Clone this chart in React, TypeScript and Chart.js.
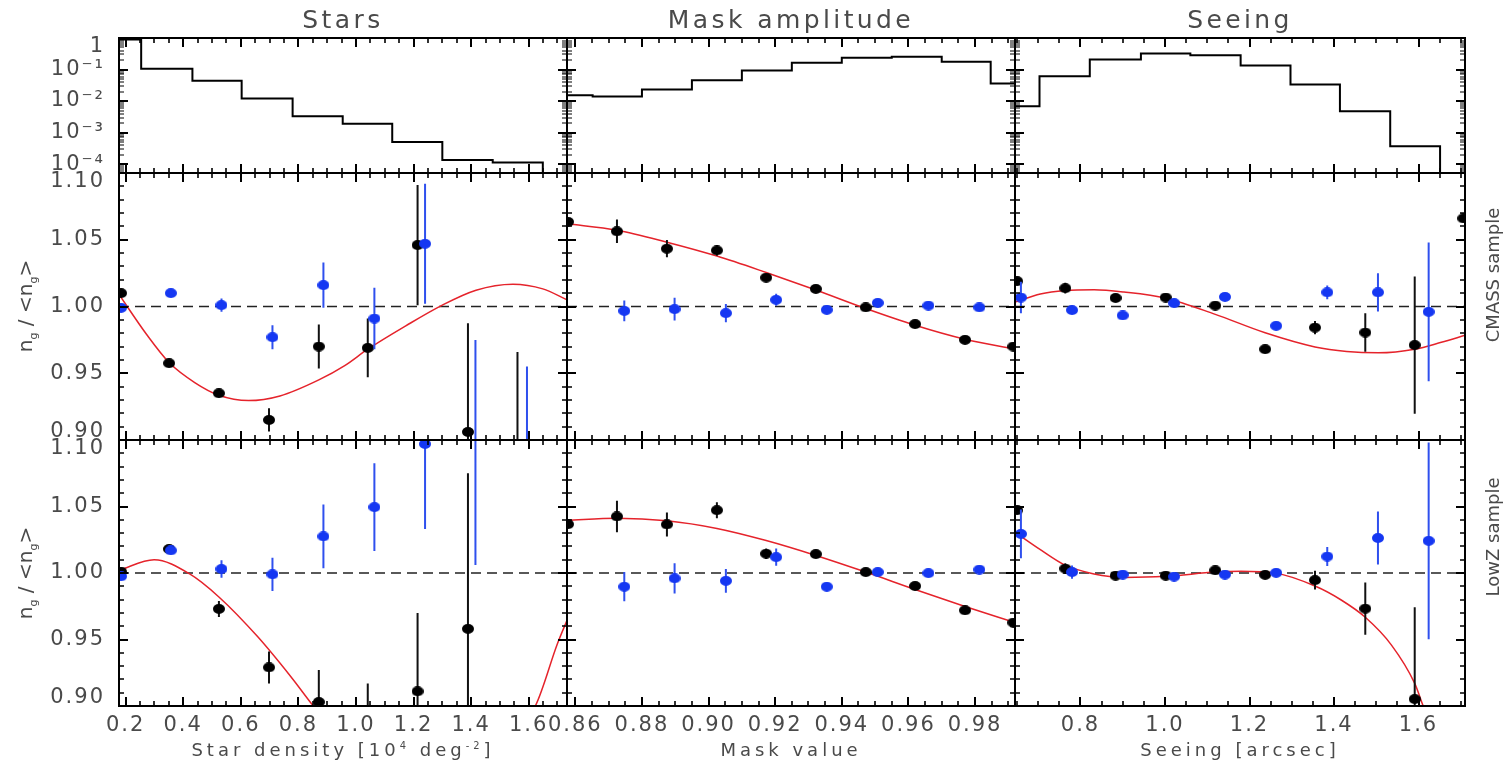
import React, { useEffect, useRef } from "react";
import { Chart, registerables } from "chart.js";

Chart.register(...registerables);

// ---------------- axis ranges & tick labels ----------------
const STARS_RANGE = [0.177, 1.733];
const MASK_RANGE = [0.8575, 0.992];
const SEEING_RANGE = [0.645, 1.71];
const RATIO_RANGE = [0.9, 1.1];
const HIST_RANGE = [5.2e-5, 1];

const STARS_TICKS = [0.2, 0.4, 0.6, 0.8, 1.0, 1.2, 1.4, 1.6];
const STARS_TICK_LABELS = ["0.2", "0.4", "0.6", "0.8", "1.0", "1.2", "1.4", "1.6"];
const MASK_TICKS = [0.86, 0.88, 0.9, 0.92, 0.94, 0.96, 0.98];
const MASK_TICK_LABELS = ["0.86", "0.88", "0.90", "0.92", "0.94", "0.96", "0.98"];
const SEEING_TICKS = [0.8, 1.0, 1.2, 1.4, 1.6];
const SEEING_TICK_LABELS = ["0.8", "1.0", "1.2", "1.4", "1.6"];
const RATIO_TICKS = [0.9, 0.95, 1.0, 1.05, 1.1];
const RATIO_TICK_LABELS = ["0.90", "0.95", "1.00", "1.05", "1.10"];
const HIST_TICKS = [1e-4, 1e-3, 1e-2, 1e-1, 1];
const HIST_TICK_LABELS = ["10⁻⁴", "10⁻³", "10⁻²", "10⁻¹", "1"];
const REFERENCE_LEVEL = 1.0;

// ---------------- histograms (fraction of area per bin) ----------------
const STARS_HIST_EDGES = [0.177, 0.254, 0.432, 0.603, 0.78, 0.954, 1.126, 1.3, 1.475, 1.649];
const STARS_HIST_FRAC = [0.9, 0.105, 0.0437, 0.012, 0.0033, 0.0019, 5.0e-4, 1.35e-4, 1.12e-4, 0];
const MASK_HIST_EDGES = [0.8575, 0.8652, 0.88, 0.895, 0.91, 0.925, 0.94, 0.955, 0.97, 0.9847, 0.992];
const MASK_HIST_FRAC = [0.0153, 0.0139, 0.0232, 0.0458, 0.093, 0.163, 0.235, 0.252, 0.175, 0.036, 0.036];
const SEEING_HIST_EDGES = [0.645, 0.703, 0.822, 0.943, 1.06, 1.179, 1.297, 1.414, 1.533, 1.651];
const SEEING_HIST_FRAC = [0.00686, 0.0614, 0.208, 0.322, 0.285, 0.134, 0.0334, 0.00475, 3.7e-4, 0];

// ---------------- Stars ----------------
const STARS_X_BLACK = [0.184, 0.351, 0.524, 0.698, 0.871, 1.041, 1.214, 1.389, 1.561];
const STARS_X_BLUE = [0.184, 0.357, 0.533, 0.71, 0.887, 1.064, 1.24, 1.415, 1.594];
const STARS_CMASS_BLACK = [1.01, 0.9575, 0.935, 0.915, 0.97, 0.969, 1.046, 0.906, 0.88];
const STARS_CMASS_BLACK_ERR = [0.002, 0.002, 0.003, 0.0087, 0.0165, 0.022, 0.045, 0.0815, 0.086];
const STARS_CMASS_BLUE = [0.999, 1.01, 1.001, 0.977, 1.016, 0.991, 1.047, 0.88, 0.87];
const STARS_CMASS_BLUE_ERR = [0.002, 0.002, 0.005, 0.009, 0.017, 0.023, 0.045, 0.095, 0.085];
const STARS_CMASS_FIT_X = [0.177, 0.273, 0.351, 0.44, 0.524, 0.627, 0.736, 0.871, 0.961, 1.041, 1.173, 1.295, 1.417, 1.545, 1.649, 1.733];
const STARS_CMASS_FIT_Y = [1.009, 0.979, 0.958, 0.943, 0.9335, 0.9295, 0.933, 0.945, 0.9557, 0.968, 0.9855, 1.0005, 1.0122, 1.0167, 1.0132, 1.005];
const STARS_LOWZ_BLACK = [1.001, 1.018, 0.973, 0.929, 0.903, 0.885, 0.911, 0.958, null];
const STARS_LOWZ_BLACK_ERR = [0.002, 0.002, 0.006, 0.012, 0.024, 0.032, 0.059, 0.117, null];
const STARS_LOWZ_BLUE = [0.9975, 1.017, 1.003, 0.999, 1.0275, 1.0495, 1.097, 1.12, null];
const STARS_LOWZ_BLUE_ERR = [0.002, 0.002, 0.0065, 0.0125, 0.024, 0.033, 0.064, 0.114, null];
const STARS_LOWZ_FIT_X = [0.177, 0.299, 0.421, 0.524, 0.659, 0.774, 0.852, 1.0, 1.22, 1.42, 1.623, 1.7, 1.733];
const STARS_LOWZ_FIT_Y = [1.002, 1.01, 0.9995, 0.982, 0.952, 0.922, 0.9, 0.862, 0.835, 0.85, 0.9, 0.947, 0.9645];

// ---------------- Mask amplitude ----------------
const MASK_X_BLACK = [0.8578, 0.8725, 0.8875, 0.9025, 0.9173, 0.9322, 0.9472, 0.962, 0.977, 0.9915];
const MASK_X_BLUE = [0.8747, 0.8898, 0.9052, 0.9203, 0.9355, 0.9508, 0.966, 0.9813];
const MASK_CMASS_BLACK = [1.0634, 1.0563, 1.0433, 1.042, 1.0216, 1.0132, 0.9993, 0.9868, 0.975, 0.97];
const MASK_CMASS_BLACK_ERR = [0.002, 0.0088, 0.0065, 0.004, 0.002, 0.002, 0.002, 0.002, 0.002, 0.002];
const MASK_CMASS_BLUE = [0.9967, 0.998, 0.995, 1.005, 0.9975, 1.0027, 1.0007, 0.9993];
const MASK_CMASS_BLUE_ERR = [0.0078, 0.0085, 0.0068, 0.0045, 0.002, 0.002, 0.002, 0.002];
const MASK_CMASS_FIT_X = [0.8575, 0.8725, 0.8875, 0.9025, 0.9173, 0.9322, 0.9472, 0.962, 0.977, 0.992];
const MASK_CMASS_FIT_Y = [1.062, 1.0572, 1.0482, 1.0378, 1.0255, 1.0124, 0.9985, 0.986, 0.9755, 0.968];
const MASK_LOWZ_BLACK = [1.0367, 1.0425, 1.0365, 1.0472, 1.0145, 1.0142, 1.0007, 0.9902, 0.9719, 0.9627];
const MASK_LOWZ_BLACK_ERR = [0.002, 0.0118, 0.009, 0.006, 0.004, 0.002, 0.002, 0.002, 0.002, 0.002];
const MASK_LOWZ_BLUE = [0.9897, 0.996, 0.9941, 1.0119, 0.9897, 1.0007, 0.9999, 1.0025];
const MASK_LOWZ_BLUE_ERR = [0.011, 0.0114, 0.009, 0.0065, 0.003, 0.002, 0.002, 0.002];
const MASK_LOWZ_FIT_X = [0.8575, 0.8725, 0.8875, 0.9025, 0.9173, 0.9322, 0.9472, 0.962, 0.977, 0.992];
const MASK_LOWZ_FIT_Y = [1.0396, 1.0412, 1.0393, 1.0335, 1.0244, 1.0132, 1.0007, 0.9876, 0.9748, 0.9627];

// ---------------- Seeing ----------------
const SEEING_X_BLACK = [0.65, 0.764, 0.883, 1.0017, 1.119, 1.237, 1.355, 1.474, 1.591, 1.706];
const SEEING_X_BLUE = [0.659, 0.78, 0.9, 1.0215, 1.142, 1.263, 1.384, 1.504, 1.624];
const SEEING_CMASS_BLACK = [1.019, 1.0137, 1.0064, 1.0067, 1.0007, 0.968, 0.9842, 0.9805, 0.9711, 1.066];
const SEEING_CMASS_BLACK_ERR = [0.002, 0.004, 0.002, 0.002, 0.002, 0.002, 0.005, 0.0144, 0.0514, 0.002];
const SEEING_CMASS_BLUE = [1.0067, 0.9973, 0.9933, 1.0025, 1.0072, 0.9855, 1.0106, 1.0106, 0.996];
const SEEING_CMASS_BLUE_ERR = [0.0118, 0.002, 0.002, 0.002, 0.002, 0.002, 0.0052, 0.0143, 0.052];
const SEEING_CMASS_FIT_X = [0.645, 0.705, 0.764, 0.832, 0.903, 1.0017, 1.119, 1.237, 1.355, 1.43, 1.505, 1.591, 1.654, 1.71];
const SEEING_CMASS_FIT_Y = [1.0033, 1.0093, 1.0119, 1.0125, 1.0108, 1.0062, 0.9941, 0.9803, 0.9697, 0.9663, 0.9653, 0.968, 0.9732, 0.9784];
const SEEING_LOWZ_BLACK = [1.0472, 1.0033, 0.998, 0.998, 1.002, 0.9986, 0.9946, 0.9732, 0.9052, null];
const SEEING_LOWZ_BLACK_ERR = [0.002, 0.004, 0.002, 0.002, 0.002, 0.002, 0.007, 0.0196, 0.069, null];
const SEEING_LOWZ_BLUE = [1.0294, 1.0007, 0.9988, 0.9973, 0.9988, 1.0001, 1.0124, 1.0263, 1.0242];
const SEEING_LOWZ_BLUE_ERR = [0.0183, 0.005, 0.002, 0.002, 0.002, 0.002, 0.0072, 0.02, 0.074];
const SEEING_LOWZ_FIT_X = [0.645, 0.705, 0.764, 0.832, 0.903, 1.0017, 1.119, 1.18, 1.259, 1.355, 1.417, 1.474, 1.536, 1.591, 1.611, 1.65, 1.71];
const SEEING_LOWZ_FIT_Y = [1.0307, 1.0176, 1.0059, 0.9993, 0.9967, 0.9975, 1.0007, 1.0014, 1.0001, 0.9902, 0.9797, 0.9667, 0.9458, 0.917, 0.9, 0.87, 0.82];

// ---------------- text ----------------
const COLUMN_TITLES = ["Stars", "Mask amplitude", "Seeing"];
const ROW_LABELS = ["CMASS sample", "LowZ sample"];

// ---------------- styling / layout ----------------
const FONT = "'DejaVu Sans', sans-serif";
const TEXT_COLOR = "#4a4a4a";
const BLUE = "#1537f2";
const BLUE_ERR = "#2f50ee";
const RED = "#e5232b";
const HIST_FLOOR = 1e-9;
const COL_EDGES = [119, 567, 1015, 1465];
const ROW_EDGES = [38, 173, 440, 706];
const M = 80;

Chart.defaults.font.family = FONT;

const COLUMNS = [
  {
    range: STARS_RANGE, ticks: STARS_TICKS, labels: STARS_TICK_LABELS, minorStep: 0.05,
    hist: { edges: STARS_HIST_EDGES, frac: STARS_HIST_FRAC },
    rows: [
      { xBlack: STARS_X_BLACK, xBlue: STARS_X_BLUE, black: STARS_CMASS_BLACK, blackErr: STARS_CMASS_BLACK_ERR, blue: STARS_CMASS_BLUE, blueErr: STARS_CMASS_BLUE_ERR, fitX: STARS_CMASS_FIT_X, fitY: STARS_CMASS_FIT_Y },
      { xBlack: STARS_X_BLACK, xBlue: STARS_X_BLUE, black: STARS_LOWZ_BLACK, blackErr: STARS_LOWZ_BLACK_ERR, blue: STARS_LOWZ_BLUE, blueErr: STARS_LOWZ_BLUE_ERR, fitX: STARS_LOWZ_FIT_X, fitY: STARS_LOWZ_FIT_Y },
    ],
  },
  {
    range: MASK_RANGE, ticks: MASK_TICKS, labels: MASK_TICK_LABELS, minorStep: 0.005,
    hist: { edges: MASK_HIST_EDGES, frac: MASK_HIST_FRAC },
    rows: [
      { xBlack: MASK_X_BLACK, xBlue: MASK_X_BLUE, black: MASK_CMASS_BLACK, blackErr: MASK_CMASS_BLACK_ERR, blue: MASK_CMASS_BLUE, blueErr: MASK_CMASS_BLUE_ERR, fitX: MASK_CMASS_FIT_X, fitY: MASK_CMASS_FIT_Y },
      { xBlack: MASK_X_BLACK, xBlue: MASK_X_BLUE, black: MASK_LOWZ_BLACK, blackErr: MASK_LOWZ_BLACK_ERR, blue: MASK_LOWZ_BLUE, blueErr: MASK_LOWZ_BLUE_ERR, fitX: MASK_LOWZ_FIT_X, fitY: MASK_LOWZ_FIT_Y },
    ],
  },
  {
    range: SEEING_RANGE, ticks: SEEING_TICKS, labels: SEEING_TICK_LABELS, minorStep: 0.05,
    hist: { edges: SEEING_HIST_EDGES, frac: SEEING_HIST_FRAC },
    rows: [
      { xBlack: SEEING_X_BLACK, xBlue: SEEING_X_BLUE, black: SEEING_CMASS_BLACK, blackErr: SEEING_CMASS_BLACK_ERR, blue: SEEING_CMASS_BLUE, blueErr: SEEING_CMASS_BLUE_ERR, fitX: SEEING_CMASS_FIT_X, fitY: SEEING_CMASS_FIT_Y },
      { xBlack: SEEING_X_BLACK, xBlue: SEEING_X_BLUE, black: SEEING_LOWZ_BLACK, blackErr: SEEING_LOWZ_BLACK_ERR, blue: SEEING_LOWZ_BLUE, blueErr: SEEING_LOWZ_BLUE_ERR, fitX: SEEING_LOWZ_FIT_X, fitY: SEEING_LOWZ_FIT_Y },
    ],
  },
];

// ---------------- helpers ----------------
function linearMinor(min: number, max: number, step: number) {
  const out: number[] = [];
  const start = Math.ceil(min / step - 1e-9);
  for (let k = start; k * step <= max + 1e-9; k++) out.push(k * step);
  return out;
}
function logMinor(min: number, max: number) {
  const out: number[] = [];
  for (let e = -6; e <= 0; e++) {
    for (let m = 2; m <= 9; m++) {
      const v = m * Math.pow(10, e);
      if (v >= min && v <= max) out.push(v);
    }
  }
  return out;
}
function makeDot(color: string) {
  const c = document.createElement("canvas");
  c.width = 12;
  c.height = 10;
  const g = c.getContext("2d")!;
  g.fillStyle = color;
  g.beginPath();
  g.ellipse(6, 5, 6, 5, 0, 0, Math.PI * 2);
  g.fill();
  return c;
}
function errorPoints(xs: number[], ys: (number | null)[], errs: (number | null)[]) {
  const pts: any[] = [];
  xs.forEach((x, i) => {
    const y = ys[i];
    const e = errs[i];
    if (y == null || e == null) return;
    pts.push({ x, y: y - e }, { x, y: y + e }, { x, y: null });
  });
  return pts;
}
function valuePoints(xs: number[], ys: (number | null)[]) {
  const pts: any[] = [];
  xs.forEach((x, i) => {
    if (ys[i] != null) pts.push({ x, y: ys[i] });
  });
  return pts;
}

function framePlugin(xMajor: number[], xMinor: number[], yMajor: number[], yMinor: number[], logY: boolean) {
  return {
    id: "frame",
    beforeDraw(chart: any) {
      chart.ctx.letterSpacing = "2px";
    },
    afterDraw(chart: any) {
      const { ctx, chartArea: a } = chart;
      const xs = chart.scales.x;
      const ys = chart.scales.y;
      ctx.save();
      ctx.letterSpacing = "0px";
      ctx.strokeStyle = "#000";
      ctx.lineWidth = 2;
      const L = Math.round(a.left), R = Math.round(a.right), T = Math.round(a.top), B = Math.round(a.bottom);
      ctx.strokeRect(L, T, R - L, B - T);
      const tx = (vals: number[], len: number) => {
        for (const v of vals) {
          const p = Math.round(xs.getPixelForValue(v));
          if (p <= L + 1 || p >= R - 1) continue;
          ctx.beginPath();
          ctx.moveTo(p, B);
          ctx.lineTo(p, B - len);
          ctx.moveTo(p, T);
          ctx.lineTo(p, T + len);
          ctx.stroke();
        }
      };
      const ty = (vals: number[], len: number) => {
        for (const v of vals) {
          const p = Math.round(ys.getPixelForValue(v));
          if (p <= T + 1 || p >= B - 1) continue;
          ctx.beginPath();
          ctx.moveTo(L, p);
          ctx.lineTo(L + len, p);
          ctx.moveTo(R, p);
          ctx.lineTo(R - len, p);
          ctx.stroke();
        }
      };
      ctx.lineWidth = 1.6;
      tx(xMinor, 5);
      ctx.lineWidth = logY ? 1.2 : 1.6;
      ty(yMinor, 5);
      ctx.lineWidth = 2;
      tx(xMajor, 9);
      ty(yMajor, 9);
      ctx.restore();
    },
  };
}

function buildConfig(colIdx: number, rowIdx: number) {
  const col = COLUMNS[colIdx];
  const isHist = rowIdx === 0;
  const showXLabels = rowIdx === 2;
  const showYLabels = colIdx === 0;
  const yTicks = isHist ? HIST_TICKS : RATIO_TICKS;
  const yLabels = isHist ? HIST_TICK_LABELS : RATIO_TICK_LABELS;
  const yMinor = isHist ? logMinor(HIST_RANGE[0], HIST_RANGE[1]) : linearMinor(RATIO_RANGE[0], RATIO_RANGE[1], 0.01);
  const xMinor = linearMinor(col.range[0], col.range[1], col.minorStep);

  let datasets: any[] = [];
  if (isHist) {
    datasets = [
      {
        data: col.hist.edges.map((x, i) => ({ x, y: col.hist.frac[i] > 0 ? col.hist.frac[i] : HIST_FLOOR })),
        stepped: true,
        borderColor: "#000",
        borderWidth: 2,
        pointRadius: 0,
        fill: false,
        clip: 0,
      },
    ];
  } else {
    const r = col.rows[rowIdx - 1];
    datasets = [
      { data: valuePoints(r.xBlue, r.blue), showLine: false, pointStyle: makeDot(BLUE), pointRadius: 6, order: 0, clip: 0 },
      { data: errorPoints(r.xBlue, r.blue, r.blueErr), borderColor: BLUE_ERR, borderWidth: 2, pointRadius: 0, spanGaps: false, order: 1, clip: 0 },
      { data: valuePoints(r.xBlack, r.black), showLine: false, pointStyle: makeDot("#000"), pointRadius: 6, order: 2, clip: 0 },
      { data: errorPoints(r.xBlack, r.black, r.blackErr), borderColor: "#111", borderWidth: 2, pointRadius: 0, spanGaps: false, order: 3, clip: 0 },
      { data: r.fitX.map((x, i) => ({ x, y: r.fitY[i] })), borderColor: RED, borderWidth: 1.5, pointRadius: 0, cubicInterpolationMode: "monotone", capBezierPoints: false, order: 4, clip: 0 },
      { data: [{ x: col.range[0], y: REFERENCE_LEVEL }, { x: col.range[1], y: REFERENCE_LEVEL }], borderColor: "#222", borderWidth: 1.6, borderDash: [10, 6], pointRadius: 0, order: 5, clip: 0 },
    ];
  }

  const tickFont = { family: FONT, size: 21, lineHeight: 0.85 };

  return {
    type: "line",
    data: { datasets },
    options: {
      animation: false,
      responsive: false,
      maintainAspectRatio: false,
      devicePixelRatio: 1,
      events: [],
      layout: { padding: { top: M, right: M, left: 0, bottom: 0 } },
      elements: { line: { capBezierPoints: false } },
      plugins: { legend: { display: false }, tooltip: { enabled: false } },
      scales: {
        x: {
          type: "linear",
          min: col.range[0],
          max: col.range[1],
          grid: { display: false, drawTicks: false },
          border: { display: false },
          afterBuildTicks: (s: any) => {
            s.ticks = col.ticks.map((v) => ({ value: v }));
          },
          afterFit: (s: any) => {
            s.height = M;
            s.paddingLeft = 0;
            s.paddingRight = 0;
          },
          ticks: {
            display: showXLabels,
            autoSkip: false,
            maxRotation: 0,
            minRotation: 0,
            padding: 11,
            color: TEXT_COLOR,
            font: tickFont,
            callback: (_v: any, i: number) => col.labels[i],
          },
        },
        y: {
          type: isHist ? "logarithmic" : "linear",
          min: isHist ? HIST_RANGE[0] : RATIO_RANGE[0],
          max: isHist ? HIST_RANGE[1] : RATIO_RANGE[1],
          grid: { display: false, drawTicks: false },
          border: { display: false },
          afterBuildTicks: (s: any) => {
            s.ticks = yTicks.map((v) => ({ value: v }));
          },
          afterFit: (s: any) => {
            s.width = M;
            s.paddingTop = 0;
            s.paddingBottom = 0;
          },
          ticks: {
            display: showYLabels,
            autoSkip: false,
            padding: 14,
            color: TEXT_COLOR,
            font: tickFont,
            callback: (_v: any, i: number) => {
              const lab = yLabels[i];
              if (i === yTicks.length - 1) return ["", lab];
              if (i === 0 && !isHist) return [lab, ""];
              return lab;
            },
          },
        },
      },
    },
    plugins: [framePlugin(col.ticks, xMinor, yTicks, yMinor, isHist)],
  };
}

function Panel({ col, row }: { col: number; row: number }) {
  const ref = useRef<HTMLCanvasElement>(null);
  const left = COL_EDGES[col] - M;
  const top = ROW_EDGES[row] - M;
  const w = COL_EDGES[col + 1] - COL_EDGES[col] + 2 * M;
  const h = ROW_EDGES[row + 1] - ROW_EDGES[row] + 2 * M;
  useEffect(() => {
    const chart = new Chart(ref.current as any, buildConfig(col, row) as any);
    return () => chart.destroy();
  }, [col, row]);
  return (
    <canvas
      ref={ref}
      width={w}
      height={h}
      style={{ position: "absolute", left, top, width: w, height: h }}
    />
  );
}

const textBase: any = {
  position: "absolute",
  whiteSpace: "nowrap",
  color: TEXT_COLOR,
  fontFamily: FONT,
  lineHeight: 1,
};

function YLabel({ y }: { y: number }) {
  return (
    <div style={{ ...textBase, left: 27, top: y, fontSize: 20, transform: "translate(-50%,-50%) rotate(-90deg)" }}>
      n<sub style={{ fontSize: "0.55em" }}>g</sub> / &lt;n<sub style={{ fontSize: "0.55em" }}>g</sub>&gt;
    </div>
  );
}

export default function App() {
  const panels: any[] = [];
  for (let r = 0; r < 3; r++) for (let c = 0; c < 3; c++) panels.push(<Panel key={`${r}-${c}`} col={c} row={r} />);
  const centers = [0, 1, 2].map((c) => (COL_EDGES[c] + COL_EDGES[c + 1]) / 2);
  return (
    <div style={{ position: "absolute", left: 0, top: 0, width: 1508, height: 764, overflow: "hidden", background: "#fff" }}>
      {panels}
      {COLUMN_TITLES.map((t, i) => (
        <div key={t} style={{ ...textBase, left: centers[i], top: 19, fontSize: 25, letterSpacing: "3.4px", transform: "translate(-50%,-50%)" }}>
          {t}
        </div>
      ))}
      <div style={{ ...textBase, left: centers[0], top: 750, fontSize: 18, letterSpacing: "4px", transform: "translate(-50%,-50%)" }}>
        Star density [10<sup style={{ fontSize: "0.55em" }}>4</sup> deg<sup style={{ fontSize: "0.55em" }}>-2</sup>]
      </div>
      <div style={{ ...textBase, left: centers[1], top: 750, fontSize: 18, letterSpacing: "4px", transform: "translate(-50%,-50%)" }}>
        Mask value
      </div>
      <div style={{ ...textBase, left: centers[2], top: 750, fontSize: 18, letterSpacing: "4px", transform: "translate(-50%,-50%)" }}>
        Seeing [arcsec]
      </div>
      <YLabel y={306} />
      <YLabel y={573} />
      <div style={{ ...textBase, left: 1493, top: 275, fontSize: 18, transform: "translate(-50%,-50%) rotate(-90deg)" }}>
        {ROW_LABELS[0]}
      </div>
      <div style={{ ...textBase, left: 1493, top: 537, fontSize: 18, transform: "translate(-50%,-50%) rotate(-90deg)" }}>
        {ROW_LABELS[1]}
      </div>
    </div>
  );
}
